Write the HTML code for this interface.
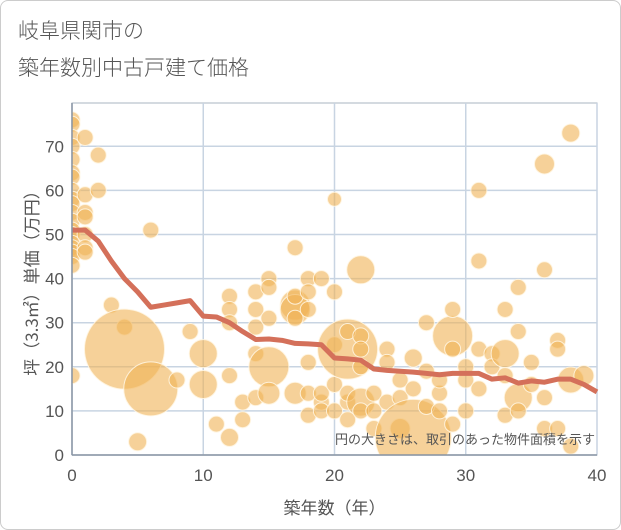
<!DOCTYPE html>
<html><head><meta charset="utf-8"><style>
html,body{margin:0;padding:0;background:#fff;}
body{width:621px;height:530px;overflow:hidden;font-family:"Liberation Sans","Noto Sans CJK JP",sans-serif;}
#frame{position:absolute;left:0;top:0;width:619px;height:528px;border:1px solid #ccc;border-radius:8px;}
#title{position:absolute;left:18px;top:12px;font-size:21px;line-height:37px;color:#555;font-family:"Noto Sans CJK JP",sans-serif;font-weight:300;}
</style></head><body>
<div id="frame"></div>
<div id="title">岐阜県関市の<br>築年数別中古戸建て価格</div>
<svg id="chart" width="621" height="530" style="position:absolute;left:0;top:0"></svg>
<script>
const xTicks=[0,10,20,30,40];
const yTicks=[0,10,20,30,40,50,60,70];
const trendX=[0,1,2,3,4,5,6,7,8,9,10,11,12,13,14,15,16,17,18,19,20,21,22,23,24,25,26,27,28,29,30,31,32,33,34,35,36,37,38,39,40];
const trendY=[51,51,48.5,44,40,37,33.5,34,34.5,35,31.5,31.3,30,28,26.2,26.3,26,25.3,25.2,25,22,21.8,21.5,19.5,19.2,19,18.8,18.5,18.2,18.5,18.5,18.5,17.2,17.5,16.3,16.8,16.5,17.2,17.2,16,14.3];
const bubX=[0,0,0,0,0,0,0,0,0,0,0,0,0,0,0,0,0,0,0,0,1,1,1,1,1,1,1,2,2,3,4,4,5,6,6,8,9,10,10,11,12,12,12,12,12,13,13,14,14,14,14,14,15,15,15,15,15,17,17,17,17,17,17,18,18,18,18,18,18,19,19,19,19,20,20,20,20,20,21,21,21,21,21,22,22,22,22,22,22,23,23,23,24,24,24,25,25,25,26,26,26,27,27,27,28,28,28,29,29,29,29,30,30,30,31,31,31,31,32,32,33,33,33,33,34,34,34,34,35,35,36,36,36,36,37,37,37,38,38,38,39];
const bubY=[76,75,72,70,67,64,63,60,58,57,55,53,51,50,48,47,46,45,43,18,72,59,55,54,50,47,46,68,60,34,29,24,3,51,15,17,28,23,16,7,4,36,33,30,18,12,8,29,33,37,23,13,40,38,31,20,14,47,34,33,36,31,14,40,37,21,9,14,33,40,12,10,14,58,37,25,16,10,24,28,12,14,8,42,12,20,27,24,10,14,10,6,24,21,12,17,13,6,4,22,15,19,30,11,14,10,17,7,27,24,33,10,20,17,15,60,44,24,23,20,9,33,23,18,13,10,38,28,21,16,6,13,66,42,26,24,6,73,17,2,18,14,13,31];
const bubR=[8,8,8,8,8,8,8,8,8,8,8,8,8,8,8,8,8,8,8,8,8,8,8,8,8,8,8,8,8,8,8,40,9,8,27,8,8,14,14,8,9,8,8,8,8,8,8,8,8,8,8,8,8,8,8,20,11,8,15,15,8,8,11,8,8,8,8,8,8,8,8,8,8,7,8,8,8,8,30,8,8,8,8,14,14,8,8,8,8,8,8,8,8,8,8,8,8,10,38,9,8,8,8,8,8,8,8,8,20,8,8,8,8,8,8,8,8,8,8,8,8,8,14,8,14,8,8,8,8,8,8,8,10,8,8,8,8,9,13,8,10,8,8];
const L=72,R=597,T=103,B=455;
const sx=v=>L+(R-L)*v/40;
const NS="http://www.w3.org/2000/svg";
const svg=document.getElementById('chart');
function mk(t,a){const e=document.createElementNS(NS,t);for(const k in a)e.setAttribute(k,a[k]);svg.appendChild(e);return e;}
const ysc=v=>B-v*4.41;
const bg=mk('rect',{x:L,y:T,width:R-L,height:B-T,fill:'#fff',stroke:'#aab4c0'});


yTicks.forEach(v=>{
 const g=mk('line',{x1:L,x2:R,y1:ysc(v),y2:ysc(v),stroke:'#c8d4e2','stroke-width':1.5});
 
 
 const t=mk('text',{x:L-8,y:ysc(v)+6,'text-anchor':'end','font-size':17,fill:'#555'});t.textContent=v;
 
 
});
xTicks.forEach(v=>{
 const g=mk('line',{x1:sx(v),x2:sx(v),y1:T,y2:B,stroke:'#c8d4e2','stroke-width':1.5});
 
 
 const t=mk('text',{x:sx(v),y:B+26,'text-anchor':'middle','font-size':17,fill:'#555'});t.textContent=v;
 
 
});
const cp=mk('clipPath',{id:'cp'});
const cr=document.createElementNS(NS,'rect');cr.setAttribute('x',L);cr.setAttribute('y',T);cr.setAttribute('width',R-L);cr.setAttribute('height',B-T);cp.appendChild(cr);
const gb=mk('g',{'clip-path':'url(#cp)'});
bubX.forEach((x,i)=>{
 const c=document.createElementNS(NS,'circle');
 c.setAttribute('cx',sx(x));c.setAttribute('cy',ysc(bubY[i]));c.setAttribute('r',bubR[i]);
 c.setAttribute('fill','rgba(240,178,85,0.6)');c.setAttribute('stroke','rgba(255,245,225,0.9)');c.setAttribute('stroke-width',1);
 
 
 gb.appendChild(c);
});
const pts=trendX.map((x,i)=>sx(x)+','+ysc(trendY[i])).join(' ');
const pl=mk('polyline',{points:pts,fill:'none',stroke:'#d4705a','stroke-width':5,'stroke-linejoin':'round'});


const ax=mk('line',{x1:L,x2:L,y1:T,y2:B,stroke:'#8a96a4','stroke-width':1.5});


const ax2=mk('line',{x1:L,x2:R,y1:B,y2:B,stroke:'#8a96a4','stroke-width':1.5});


const note=mk('text',{x:R-2,y:444,'text-anchor':'end','font-size':13,fill:'#555','font-family':'Noto Sans CJK JP,sans-serif'});note.textContent='円の大きさは、取引のあった物件面積を示す';


const xt=mk('text',{x:(L+R)/2,y:514,'text-anchor':'middle','font-size':17,fill:'#555','font-family':'Noto Sans CJK JP,sans-serif'});xt.textContent='築年数（年）';


const yt=mk('text',{x:0,y:0,'text-anchor':'middle','font-size':17,fill:'#555','font-family':'Noto Sans CJK JP,sans-serif',transform:'translate(38,'+((T+B)/2)+') rotate(-90)'});yt.textContent='坪（3.3㎡）単価（万円）';


</script>
</body></html>
